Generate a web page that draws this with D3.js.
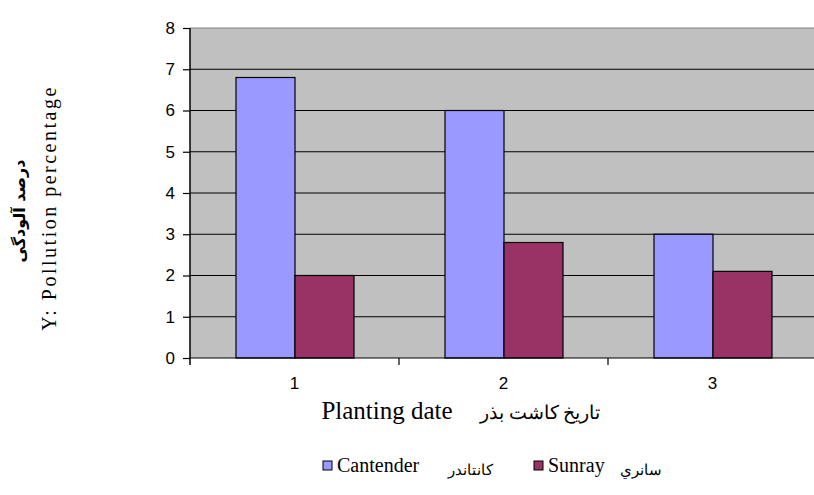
<!DOCTYPE html>
<html><head><meta charset="utf-8">
<script src="https://cdn.jsdelivr.net/npm/d3@7"></script>
<style>body{margin:0;background:#fff}svg{display:block}</style>
</head><body>
<svg id="c" width="814" height="495"></svg>
<script>
const categories = ["1", "2", "3"];
const seriesNames = ["Cantender", "Sunray"];
const seriesFa = ["كانتاندر", "سانري"];
const cantender = [6.8, 6.0, 3.0];
const sunray = [2.0, 2.8, 2.1];
const yTicks = [0, 1, 2, 3, 4, 5, 6, 7, 8];
const colors = ["#9999ff", "#993366"];

(function () {
const svg = d3.select("#c");
const pL = 190, pT = 28, pB = 358, pR = 817;
const x = d3.scaleBand().domain(categories).range([pL, pR]).paddingInner(0).paddingOuter(0);
const xs = d3.scaleBand().domain(seriesNames).range([46, 164]);
const y = d3.scaleLinear().domain([0, 8]).range([pB, pT]);

svg.append("rect").attr("x", pL).attr("y", pT).attr("width", pR - pL).attr("height", pB - pT).attr("fill", "#c0c0c0");

svg.append("g").selectAll("line").data(yTicks.filter(d => d > 0)).join("line")
  .attr("x1", pL).attr("x2", pR).attr("y1", d => y(d)).attr("y2", d => y(d))
  .attr("stroke", d => d === 8 ? "#808080" : "#000").attr("stroke-width", 1.2);

const data = categories.map((c, i) => ({c, vals: [cantender[i], sunray[i]]}));
const g = svg.append("g");
data.forEach(d => {
  d.vals.forEach((v, j) => {
    g.append("rect")
      .attr("x", x(d.c) + xs(seriesNames[j]))
      .attr("y", y(v))
      .attr("width", xs.bandwidth())
      .attr("height", y(0) - y(v))
      .attr("fill", colors[j]).attr("stroke", "#000").attr("stroke-width", 1.2);
  });
});

// y axis
const ya = svg.append("g").attr("transform", `translate(${pL},0)`)
  .call(d3.axisLeft(y).tickValues(yTicks).tickSize(7).tickPadding(8).tickFormat(d3.format("d")));
ya.select(".domain").attr("stroke", "#000").attr("stroke-width", 1.5).attr("d", `M0,${pT}V${pB + 7}`);
ya.selectAll(".tick line").attr("stroke", "#000").attr("stroke-width", 1.2);
ya.selectAll(".tick text").attr("font-family", "Liberation Sans, Arial, sans-serif").attr("font-size", 17).attr("fill", "#000");

// x axis
const xa = svg.append("g").attr("transform", `translate(0,${pB})`)
  .call(d3.axisBottom(x).tickSize(0).tickPadding(19));
xa.select(".domain").attr("stroke", "#000").attr("stroke-width", 1.2).attr("d", `M${pL},0H${pR}`);
xa.selectAll(".tick text").attr("font-family", "Liberation Sans, Arial, sans-serif").attr("font-size", 17).attr("fill", "#000");
svg.append("g").selectAll("line").data(categories.slice(1)).join("line")
  .attr("x1", d => x(d)).attr("x2", d => x(d)).attr("y1", pB).attr("y2", pB + 7)
  .attr("stroke", "#000").attr("stroke-width", 1.2);

// x title
svg.append("text").attr("x", 387).attr("y", 419).attr("text-anchor", "middle")
  .attr("font-family", "Liberation Serif, Times New Roman, serif").attr("font-size", 25).text("Planting date");
svg.append("text").attr("x", 540).attr("y", 419).attr("text-anchor", "middle")
  .attr("font-family", "Liberation Serif, DejaVu Serif, serif").attr("font-size", 19).attr("direction", "rtl").text("تاريخ كاشت بذر");

// y titles
svg.append("text").attr("transform", "translate(56,208) rotate(-90)").attr("text-anchor", "middle")
  .attr("font-family", "Liberation Serif, Times New Roman, serif").attr("font-size", 20)
  .attr("letter-spacing", 2.5).text("Y: Pollution percentage");
svg.append("text").attr("transform", "translate(19,211) rotate(-90)").attr("text-anchor", "middle")
  .attr("dominant-baseline", "central")
  .attr("font-family", "DejaVu Sans, sans-serif").attr("font-weight", "bold").attr("font-size", 16).attr("direction", "rtl").text("درصد آلودگی");

// legend
const legX = [323, 534], legTxtX = [337, 548], legFaX = [470, 641];
seriesNames.forEach((s, j) => {
  svg.append("rect").attr("x", legX[j]).attr("y", 461).attr("width", 9).attr("height", 9)
    .attr("fill", colors[j]).attr("stroke", "#000").attr("stroke-width", 1);
  svg.append("text").attr("x", legTxtX[j]).attr("y", 472)
    .attr("font-family", "Liberation Serif, Times New Roman, serif").attr("font-size", 20).text(s);
  svg.append("text").attr("x", legFaX[j]).attr("y", 475).attr("text-anchor", "middle").attr("direction", "rtl")
    .attr("font-family", "Liberation Serif, DejaVu Serif, serif").attr("font-size", 15).text(seriesFa[j]);
});
})();
</script>
</body></html>
